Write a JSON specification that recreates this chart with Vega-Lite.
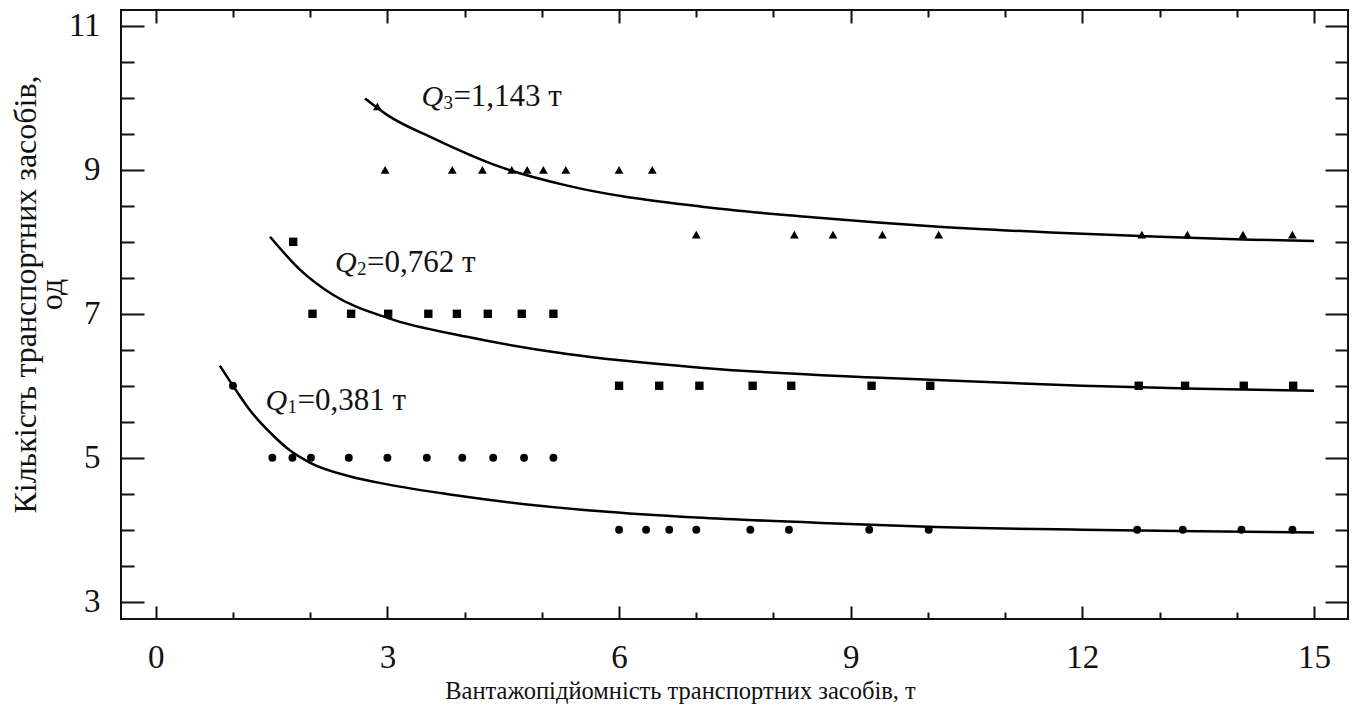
{
  "$schema": "https://vega.github.io/schema/vega-lite/v6.json",
  "width": 1227,
  "height": 609,
  "autosize": {"type": "none"},
  "padding": {"left": 121, "top": 10, "right": 11, "bottom": 87},
  "background": "white",
  "config": {
    "view": {"stroke": "#111", "strokeWidth": 2},
    "font": "Liberation Serif",
    "axis": {"domain": false, "grid": false, "tickColor": "#111", "tickWidth": 2, "labelColor": "#111", "titleColor": "#111", "labelFont": "Liberation Serif", "titleFont": "Liberation Serif", "titleFontWeight": "normal"}
  },
  "datasets": {
    "pts": [
      {"series": "Q1", "x": 1.0, "y": 6},
      {"series": "Q1", "x": 1.51, "y": 5},
      {"series": "Q1", "x": 1.77, "y": 5},
      {"series": "Q1", "x": 2.01, "y": 5},
      {"series": "Q1", "x": 2.5, "y": 5},
      {"series": "Q1", "x": 3.0, "y": 5},
      {"series": "Q1", "x": 3.51, "y": 5},
      {"series": "Q1", "x": 3.97, "y": 5},
      {"series": "Q1", "x": 4.37, "y": 5},
      {"series": "Q1", "x": 4.77, "y": 5},
      {"series": "Q1", "x": 5.15, "y": 5},
      {"series": "Q1", "x": 6.0, "y": 4},
      {"series": "Q1", "x": 6.35, "y": 4},
      {"series": "Q1", "x": 6.65, "y": 4},
      {"series": "Q1", "x": 7.0, "y": 4},
      {"series": "Q1", "x": 7.7, "y": 4},
      {"series": "Q1", "x": 8.2, "y": 4},
      {"series": "Q1", "x": 9.24, "y": 4},
      {"series": "Q1", "x": 10.01, "y": 4},
      {"series": "Q1", "x": 12.71, "y": 4},
      {"series": "Q1", "x": 13.3, "y": 4},
      {"series": "Q1", "x": 14.06, "y": 4},
      {"series": "Q1", "x": 14.72, "y": 4},
      {"series": "Q2", "x": 1.78, "y": 8},
      {"series": "Q2", "x": 2.03, "y": 7},
      {"series": "Q2", "x": 2.53, "y": 7},
      {"series": "Q2", "x": 3.01, "y": 7},
      {"series": "Q2", "x": 3.53, "y": 7},
      {"series": "Q2", "x": 3.9, "y": 7},
      {"series": "Q2", "x": 4.3, "y": 7},
      {"series": "Q2", "x": 4.74, "y": 7},
      {"series": "Q2", "x": 5.15, "y": 7},
      {"series": "Q2", "x": 6.0, "y": 6},
      {"series": "Q2", "x": 6.52, "y": 6},
      {"series": "Q2", "x": 7.04, "y": 6},
      {"series": "Q2", "x": 7.73, "y": 6},
      {"series": "Q2", "x": 8.23, "y": 6},
      {"series": "Q2", "x": 9.27, "y": 6},
      {"series": "Q2", "x": 10.03, "y": 6},
      {"series": "Q2", "x": 12.73, "y": 6},
      {"series": "Q2", "x": 13.33, "y": 6},
      {"series": "Q2", "x": 14.09, "y": 6},
      {"series": "Q2", "x": 14.73, "y": 6},
      {"series": "Q3", "x": 2.87, "y": 9.88},
      {"series": "Q3", "x": 2.97, "y": 9},
      {"series": "Q3", "x": 3.84, "y": 9},
      {"series": "Q3", "x": 4.23, "y": 9},
      {"series": "Q3", "x": 4.61, "y": 9},
      {"series": "Q3", "x": 4.81, "y": 9},
      {"series": "Q3", "x": 5.02, "y": 9},
      {"series": "Q3", "x": 5.31, "y": 9},
      {"series": "Q3", "x": 6.0, "y": 9},
      {"series": "Q3", "x": 6.43, "y": 9},
      {"series": "Q3", "x": 7.0, "y": 8.1},
      {"series": "Q3", "x": 8.27, "y": 8.1},
      {"series": "Q3", "x": 8.77, "y": 8.1},
      {"series": "Q3", "x": 9.41, "y": 8.1},
      {"series": "Q3", "x": 10.14, "y": 8.1},
      {"series": "Q3", "x": 12.77, "y": 8.1},
      {"series": "Q3", "x": 13.36, "y": 8.1},
      {"series": "Q3", "x": 14.08, "y": 8.1},
      {"series": "Q3", "x": 14.72, "y": 8.1}
    ],
    "curves": [
      {"series": "Q1", "x": 0.83, "y": 6.28},
      {"series": "Q1", "x": 1.0, "y": 6.0},
      {"series": "Q1", "x": 1.22, "y": 5.66},
      {"series": "Q1", "x": 1.5, "y": 5.33},
      {"series": "Q1", "x": 1.74, "y": 5.1},
      {"series": "Q1", "x": 2.0, "y": 4.93},
      {"series": "Q1", "x": 2.52, "y": 4.74},
      {"series": "Q1", "x": 3.0, "y": 4.63},
      {"series": "Q1", "x": 3.81, "y": 4.49},
      {"series": "Q1", "x": 5.0, "y": 4.33},
      {"series": "Q1", "x": 5.72, "y": 4.26},
      {"series": "Q1", "x": 7.0, "y": 4.17},
      {"series": "Q1", "x": 8.5, "y": 4.1},
      {"series": "Q1", "x": 10.0, "y": 4.04},
      {"series": "Q1", "x": 12.0, "y": 4.0},
      {"series": "Q1", "x": 13.5, "y": 3.98},
      {"series": "Q1", "x": 15.0, "y": 3.96},
      {"series": "Q2", "x": 1.48, "y": 8.07},
      {"series": "Q2", "x": 1.87, "y": 7.61},
      {"series": "Q2", "x": 2.3, "y": 7.26},
      {"series": "Q2", "x": 3.01, "y": 6.94},
      {"series": "Q2", "x": 4.03, "y": 6.68},
      {"series": "Q2", "x": 5.33, "y": 6.44},
      {"series": "Q2", "x": 7.05, "y": 6.25},
      {"series": "Q2", "x": 9.38, "y": 6.11},
      {"series": "Q2", "x": 12.0, "y": 6.0},
      {"series": "Q2", "x": 13.5, "y": 5.96},
      {"series": "Q2", "x": 15.0, "y": 5.93},
      {"series": "Q3", "x": 2.71, "y": 9.99},
      {"series": "Q3", "x": 3.0, "y": 9.76},
      {"series": "Q3", "x": 3.59, "y": 9.44},
      {"series": "Q3", "x": 4.46, "y": 9.04},
      {"series": "Q3", "x": 5.33, "y": 8.78},
      {"series": "Q3", "x": 7.05, "y": 8.49},
      {"series": "Q3", "x": 8.5, "y": 8.34},
      {"series": "Q3", "x": 10.14, "y": 8.21},
      {"series": "Q3", "x": 11.59, "y": 8.13},
      {"series": "Q3", "x": 13.0, "y": 8.07},
      {"series": "Q3", "x": 14.18, "y": 8.03},
      {"series": "Q3", "x": 15.0, "y": 8.01}
    ],
    "labels": [
      {"lx": 1.42, "ly": 5.67, "sub": "1", "rest": "=0,381 т"},
      {"lx": 2.32, "ly": 7.58, "sub": "2", "rest": "=0,762 т"},
      {"lx": 3.44, "ly": 9.89, "sub": "3", "rest": "=1,143 т"}
    ]
  },
  "resolve": {"axis": {"x": "independent", "y": "independent"}},
  "layer": [
    {
      "data": {"name": "pts"},
      "mark": {"type": "point", "filled": true, "opacity": 1, "color": "black"},
      "encoding": {
        "x": {"field": "x", "type": "quantitative",
          "scale": {"domain": [-0.45, 15.44], "nice": false, "zero": false},
          "axis": {"orient": "bottom", "title": "Вантажопідйомність транспортних засобів, т",
            "values": [0,1,2,3,4,5,6,7,8,9,10,11,12,13,14,15],
            "tickSize": {"condition": {"test": "datum.value % 3 === 0", "value": -13}, "value": -7},
            "labelExpr": "datum.value % 3 === 0 ? format(datum.value, 'd') : ''",
            "labelFontSize": 33, "labelPadding": 35, "labelFlush": false, "labelOverlap": false,
            "titleFontSize": 24.5, "titleX": 559, "titleY": 79, "titleBaseline": "alphabetic", "titleAlign": "center", "titleAnchor": null}},
        "y": {"field": "y", "type": "quantitative",
          "scale": {"domain": [2.76, 11.22], "nice": false, "zero": false},
          "axis": {"orient": "left", "title": ["Кількість транспортних засобів,", "од"],
            "values": [3,3.5,4,4.5,5,5.5,6,6.5,7,7.5,8,8.5,9,9.5,10,10.5,11],
            "tickSize": {"condition": {"test": "(datum.value - 3) % 2 === 0", "value": -23}, "value": -13},
            "labelExpr": "(datum.value - 3) % 2 === 0 ? format(datum.value, 'd') : ''",
            "labelFontSize": 33, "labelPadding": 44, "labelFlush": false, "labelOverlap": false,
            "titleFontSize": 32, "titleX": -86, "titleY": 284, "titleAngle": 270, "titleBaseline": "alphabetic", "titleAlign": "center", "titleLineHeight": 26}},
        "shape": {"field": "series", "type": "nominal", "legend": null,
          "scale": {"domain": ["Q1", "Q2", "Q3"], "range": ["circle", "square", "triangle-up"]}},
        "size": {"field": "series", "type": "nominal", "legend": null,
          "scale": {"domain": ["Q1", "Q2", "Q3"], "range": [62, 78, 82]}}
      }
    },
    {
      "data": {"name": "curves"},
      "mark": {"type": "line", "color": "black", "strokeWidth": 2.5, "interpolate": "monotone"},
      "encoding": {
        "x": {"field": "x", "type": "quantitative",
          "axis": {"orient": "top", "title": null, "labels": false,
            "values": [0,1,2,3,4,5,6,7,8,9,10,11,12,13,14,15],
            "tickSize": {"condition": {"test": "datum.value % 3 === 0", "value": -13}, "value": -7}}},
        "y": {"field": "y", "type": "quantitative",
          "axis": {"orient": "right", "title": null, "labels": false,
            "values": [3,3.5,4,4.5,5,5.5,6,6.5,7,7.5,8,8.5,9,9.5,10,10.5,11],
            "tickSize": {"condition": {"test": "(datum.value - 3) % 2 === 0", "value": -23}, "value": -13}}},
        "detail": {"field": "series", "type": "nominal"}
      }
    },
    {
      "data": {"name": "labels"},
      "mark": {"type": "text", "text": "Q", "fontStyle": "italic", "fontSize": 30, "align": "left", "baseline": "alphabetic", "color": "#111"},
      "encoding": {
        "x": {"field": "lx", "type": "quantitative", "axis": null},
        "y": {"field": "ly", "type": "quantitative", "axis": null}
      }
    },
    {
      "data": {"name": "labels"},
      "mark": {"type": "text", "fontSize": 19, "align": "left", "baseline": "alphabetic", "dx": 22, "dy": 3, "color": "#111"},
      "encoding": {
        "x": {"field": "lx", "type": "quantitative", "axis": null},
        "y": {"field": "ly", "type": "quantitative", "axis": null},
        "text": {"field": "sub", "type": "nominal"}
      }
    },
    {
      "data": {"name": "labels"},
      "mark": {"type": "text", "fontSize": 31, "align": "left", "baseline": "alphabetic", "dx": 32, "color": "#111"},
      "encoding": {
        "x": {"field": "lx", "type": "quantitative", "axis": null},
        "y": {"field": "ly", "type": "quantitative", "axis": null},
        "text": {"field": "rest", "type": "nominal"}
      }
    }
  ]
}
